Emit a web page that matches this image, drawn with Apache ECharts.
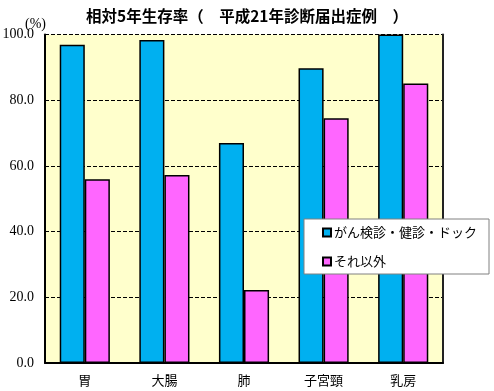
<!DOCTYPE html>
<html><head><meta charset="utf-8">
<script src="https://cdn.jsdelivr.net/npm/echarts@6/dist/echarts.min.js"></script>
<style>html,body{margin:0;padding:0;background:#fff}#c{width:494px;height:391px}</style>
</head><body><div id="c"></div>
<script>
const categories = ['胃', '大腸', '肺', '子宮頸', '乳房'];
const screened = [96.9, 98.3, 67.0, 89.7, 100.0];
const others = [55.9, 57.2, 22.2, 74.5, 85.1];
const seriesNames = ['がん検診・健診・ドック', 'それ以外'];
const yTicks = [0, 20, 40, 60, 80, 100];

const chart = echarts.init(document.getElementById('c'));
const jp = 'Noto Sans CJK JP';
const serif = 'Times New Roman';
chart.setOption({
  animation: false,
  backgroundColor: '#fff',
  title: {
    text: '相対5年生存率（　平成21年診断届出症例　）',
    left: 'center', top: 3,
    textStyle: { fontFamily: jp, fontSize: 15.5, fontWeight: 'bold', color: '#000' }
  },
  graphic: [{
    type: 'text', left: 25, top: 17,
    style: { text: '(%)', fontFamily: serif, fontSize: 14, fill: '#000' }
  }],
  grid: { left: 45, right: 51, top: 34.5, bottom: 28, show: true, backgroundColor: '#FFFFCC', borderWidth: 0,
    outerBoundsMode: 'none', containLabel: false },
  legend: {
    orient: 'vertical', left: 304, top: 219,
    backgroundColor: '#fff', borderColor: '#808080', borderWidth: 1,
    padding: [7, 12, 6, 18], itemGap: 16,
    itemWidth: 8, itemHeight: 8, icon: 'rect',
    textStyle: { fontFamily: jp, fontSize: 13, color: '#000', padding: [0, 0, 0, -2] },
    data: seriesNames
  },
  xAxis: {
    type: 'category', data: categories,
    axisLine: { lineStyle: { color: '#000', width: 2 } },
    axisTick: { show: false },
    axisLabel: { fontFamily: jp, fontSize: 13, color: '#000', margin: 11 }
  },
  yAxis: [{
    type: 'value', min: 0, max: 100, interval: 20,
    axisLine: { show: true, lineStyle: { color: '#000', width: 2 } },
    axisTick: { show: false },
    axisLabel: { fontFamily: serif, fontSize: 14, color: '#000', margin: 11,
      formatter: v => yTicks.includes(v) ? v.toFixed(1) : '' },
    splitLine: { show: true, lineStyle: { color: '#000', width: 1, type: [4, 2] } }
  }, {
    type: 'value', min: 0, max: 100, interval: 20, position: 'right',
    axisLine: { show: true, lineStyle: { color: '#222', width: 2 } },
    axisTick: { show: false }, axisLabel: { show: false }, splitLine: { show: false }
  }],
  series: [{
    name: seriesNames[0], type: 'bar', data: screened,
    barGap: '0%', barCategoryGap: '37%',
    itemStyle: { color: '#00B0F0', borderColor: '#000', borderWidth: 1.5 }
  }, {
    name: seriesNames[1], type: 'bar', data: others,
    barGap: '0%', barCategoryGap: '37%',
    itemStyle: { color: '#FF66FF', borderColor: '#000', borderWidth: 1.5 }
  }]
});
</script></body></html>
